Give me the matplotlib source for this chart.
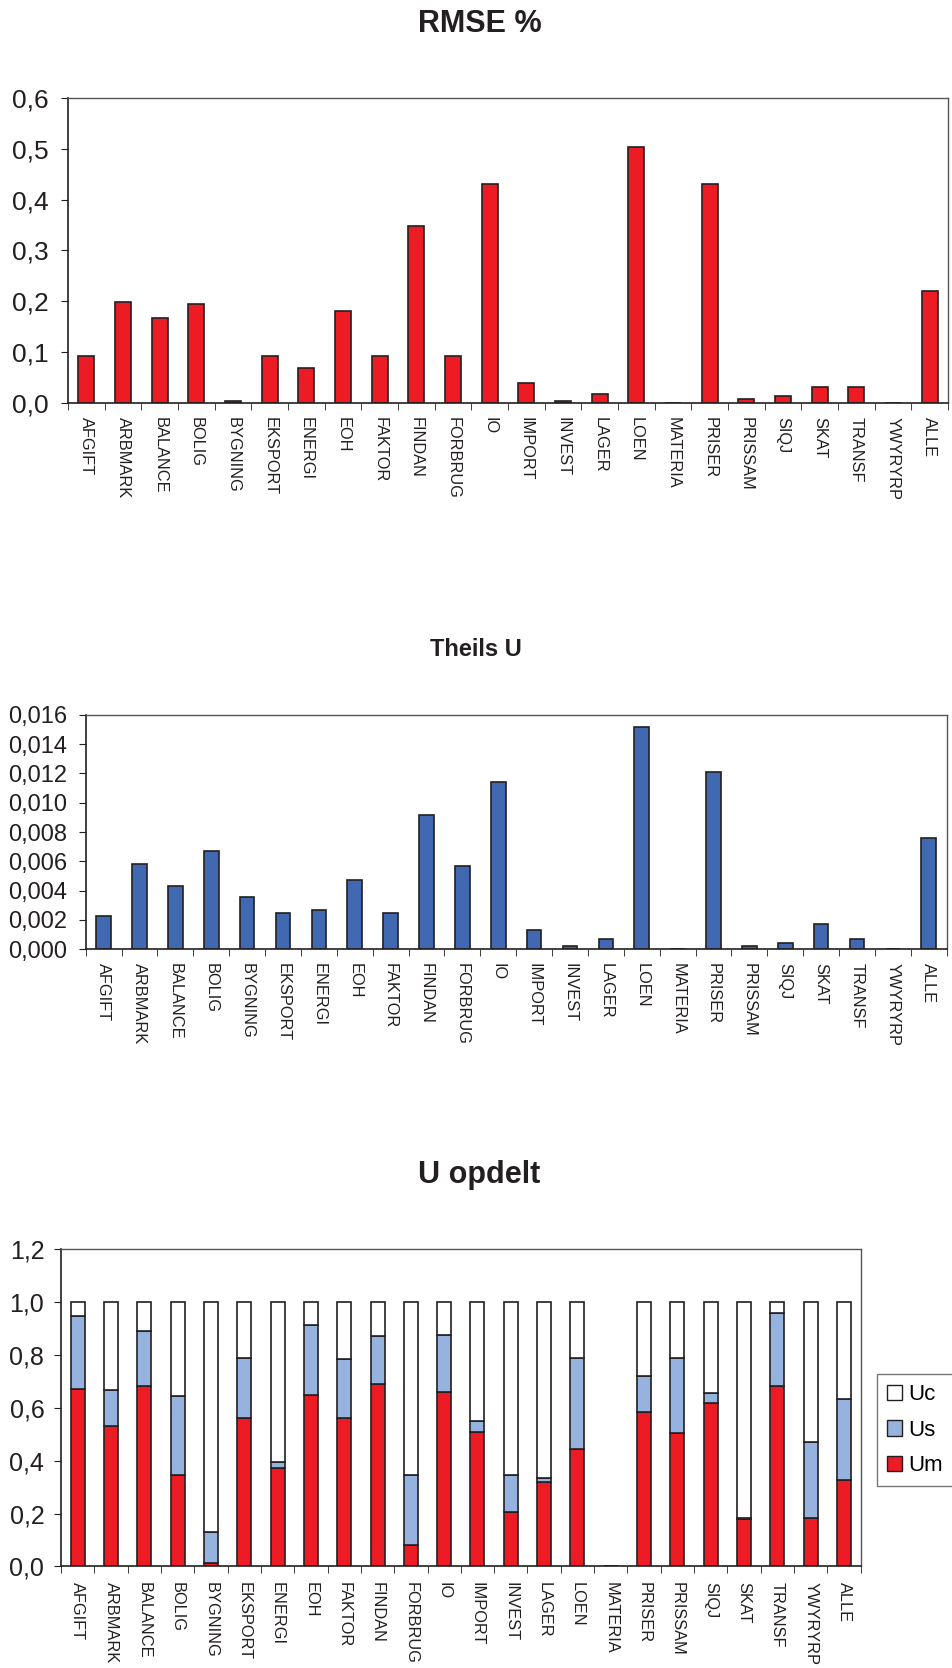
import numpy as np
import matplotlib.pyplot as plt
from matplotlib.ticker import FuncFormatter, FixedLocator, MultipleLocator
from matplotlib.patches import Patch

plt.rcParams['font.family'] = ['Liberation Sans', 'DejaVu Sans']

categories = ["AFGIFT", "ARBMARK", "BALANCE", "BOLIG", "BYGNING", "EKSPORT",
              "ENERGI", "EOH", "FAKTOR", "FINDAN", "FORBRUG", "IO", "IMPORT",
              "INVEST", "LAGER", "LOEN", "MATERIA", "PRISER", "PRISSAM", "SIQJ",
              "SKAT", "TRANSF", "YWYRYRP", "ALLE"]

rmse = [0.092, 0.199, 0.168, 0.195, 0.004, 0.092, 0.068, 0.181, 0.092, 0.348,
        0.092, 0.430, 0.040, 0.004, 0.018, 0.503, 0.0, 0.430, 0.007, 0.013,
        0.032, 0.032, 0.0, 0.220]

theil_u = [0.0023, 0.0058, 0.0043, 0.0067, 0.0036, 0.0025, 0.0027, 0.0047,
           0.0025, 0.0092, 0.0057, 0.0114, 0.0013, 0.0002, 0.0007, 0.0152,
           0.0, 0.0121, 0.0002, 0.0004, 0.0017, 0.0007, 0.0, 0.0076]

# Um, Us and Uc shares (sum to 1, MATERIA missing)
u_m = [0.672, 0.533, 0.684, 0.344, 0.012, 0.560, 0.374, 0.649, 0.561, 0.690,
       0.081, 0.659, 0.507, 0.206, 0.320, 0.443, 0.0, 0.584, 0.505, 0.620,
       0.181, 0.683, 0.184, 0.328]
u_s = [0.275, 0.133, 0.205, 0.299, 0.120, 0.229, 0.020, 0.264, 0.223, 0.181,
       0.263, 0.217, 0.042, 0.138, 0.014, 0.346, 0.0, 0.135, 0.284, 0.036,
       0.004, 0.275, 0.287, 0.307]
u_c = [0.053, 0.334, 0.111, 0.357, 0.868, 0.211, 0.606, 0.087, 0.216, 0.129,
       0.656, 0.124, 0.451, 0.656, 0.666, 0.211, 0.0, 0.281, 0.211, 0.344,
       0.815, 0.042, 0.529, 0.365]

red = "#ED1C24"
blue = "#4169B1"
light_blue = "#95B3DE"
edge = "#231F20"
txt = "#231F20"

x = np.arange(len(categories))

fig = plt.figure(figsize=(9.53, 16.68), dpi=100)


def style_axes(ax, decimals, ymax, step, fs, ypad, xpad):
    ax.set_xlim(-0.5, len(categories) - 0.5)
    ax.set_ylim(0, ymax)
    ax.yaxis.set_major_locator(MultipleLocator(step))
    ax.yaxis.set_major_formatter(
        FuncFormatter(lambda v, p: f"{v:.{decimals}f}".replace(".", ",")))
    ax.set_xticks(x)
    ax.set_xticklabels(categories, rotation=270, fontsize=11.8, color=txt)
    ax.tick_params(axis="x", which="major", length=0, pad=xpad)
    ax.xaxis.set_minor_locator(FixedLocator(np.arange(-0.5, len(categories), 1)))
    ax.tick_params(axis="x", which="minor", length=5, color=edge)
    ax.tick_params(axis="y", length=5, color=edge, labelsize=fs,
                   labelcolor=txt, pad=ypad)
    for s in ["left", "bottom"]:
        ax.spines[s].set_color(edge)
        ax.spines[s].set_linewidth(1.2)
    for s in ["top", "right"]:
        ax.spines[s].set_color("#555555")
        ax.spines[s].set_linewidth(1.0)


# RMSE %
ax1 = fig.add_axes([0.0714, 0.7584, 0.9234, 0.1829])
ax1.bar(x, rmse, width=0.44, color=red, edgecolor=edge, linewidth=1.2)
style_axes(ax1, 1, 0.6, 0.1, 19, 9, 10)
fig.text(0.504, 1 - 24 / 1668, "RMSE %", ha="center", va="center",
         fontsize=22, fontweight="bold", color=txt)

# Theils U
ax2 = fig.add_axes([0.0899, 0.4309, 0.9035, 0.1405])
ax2.bar(x, theil_u, width=0.41, color=blue, edgecolor=edge, linewidth=1.2)
style_axes(ax2, 3, 0.016, 0.002, 17, 8, 10)
fig.text(0.499, 1 - 649 / 1668, "Theils U", ha="center", va="center",
         fontsize=17, fontweight="bold", color=txt)

# U opdelt
ax3 = fig.add_axes([0.064, 0.0609, 0.8391, 0.1902])
bottom_s = np.array(u_m)
bottom_c = bottom_s + np.array(u_s)
ax3.bar(x, u_m, width=0.42, color=red, edgecolor=edge, linewidth=1.2)
ax3.bar(x, u_s, width=0.42, bottom=bottom_s, color=light_blue, edgecolor=edge, linewidth=1.2)
ax3.bar(x, u_c, width=0.42, bottom=bottom_c, color="white", edgecolor=edge, linewidth=1.2)
style_axes(ax3, 1, 1.2, 0.2, 18, 7, 11)
fig.text(0.503, 1 - 1175 / 1668, "U opdelt", ha="center", va="center",
         fontsize=22, fontweight="bold", color=txt)

handles = [Patch(facecolor="white", edgecolor=edge, label="Uc"),
           Patch(facecolor=light_blue, edgecolor=edge, label="Us"),
           Patch(facecolor=red, edgecolor=edge, label="Um")]
leg = fig.legend(handles=handles, loc="upper left", bbox_to_anchor=(0.920, 0.176),
                 fontsize=16, frameon=True, fancybox=False, handlelength=0.68,
                 handleheight=0.68, handletextpad=0.3, labelspacing=0.65,
                 borderpad=0.45, borderaxespad=0)
leg.get_frame().set_edgecolor("#555555")
leg.get_frame().set_linewidth(1.0)

fig.savefig("out.png", dpi=100, facecolor="white")
